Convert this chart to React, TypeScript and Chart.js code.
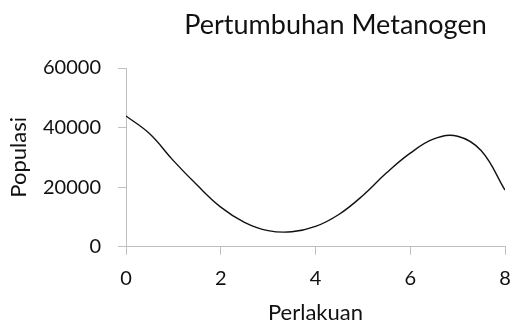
import React, { useEffect, useRef } from "react";
import { Chart, registerables } from "chart.js";

Chart.register(...registerables);

const perlakuan = [0, 0.5, 1, 1.5, 2, 2.5, 3, 3.5, 4, 4.5, 5, 5.5, 6, 6.5, 7, 7.5, 8];
const populasi = [
  43900, 37900, 28900, 20700, 13300, 8200, 5400, 5000, 6800, 10900, 17200, 24800, 31400, 36200,
  37100, 32200, 19000,
];
const xTicks = [0, 2, 4, 6, 8];
const yTicks = [0, 20000, 40000, 60000];
const chartTitle = "Pertumbuhan Metanogen";
const xTitle = "Perlakuan";
const yTitle = "Populasi";

const FONT = "Lato, 'Open Sans', sans-serif";
const AXIS_GRAY = "#bfbfbf";
const TEXT = "#111";

const titlePlugin = {
  id: "offsetTitle",
  afterDraw(chart: any) {
    const { ctx, chartArea } = chart;
    ctx.save();
    ctx.font = `27px ${FONT}`;
    ctx.fillStyle = TEXT;
    ctx.textAlign = "center";
    ctx.textBaseline = "alphabetic";
    ctx.fillText(chartTitle, (chartArea.left + chartArea.right) / 2 + 20, 34);
    ctx.restore();
  },
};

export default function App() {
  const ref = useRef<HTMLCanvasElement | null>(null);
  useEffect(() => {
    if (!ref.current) return;
    const chart = new Chart(ref.current, {
      type: "scatter",
      data: {
        datasets: [
          {
            data: perlakuan.map((x, i) => ({ x, y: populasi[i] })),
            showLine: true,
            borderColor: "#111",
            borderWidth: 1.4,
            pointRadius: 0,
            tension: 0.4,
            fill: false,
          },
        ],
      },
      options: {
        animation: false,
        responsive: true,
        maintainAspectRatio: false,
        layout: { padding: { top: 68, right: 0, bottom: 0, left: 0 } },
        plugins: {
          legend: { display: false },
          tooltip: { enabled: false },
          title: { display: false },
        },
        scales: {
          x: {
            type: "linear",
            min: 0,
            max: 8,
            afterBuildTicks: (s: any) => {
              s.ticks = xTicks.map((v) => ({ value: v }));
            },
            afterFit: (s: any) => {
              s.height = 75.3;
              s.paddingRight = 8;
              s.paddingLeft = 0;
            },
            grid: {
              drawOnChartArea: false,
              drawTicks: true,
              tickLength: 8,
              color: AXIS_GRAY,
            },
            border: { color: AXIS_GRAY, width: 1 },
            ticks: {
              color: TEXT,
              font: { family: FONT, size: 20 },
              padding: 12,
              maxRotation: 0,
            },
            title: {
              display: true,
              text: xTitle,
              color: TEXT,
              font: { family: FONT, size: 22 },
              padding: { top: 0, bottom: -4 },
            },
          },
          y: {
            type: "linear",
            min: 0,
            max: 60000,
            afterBuildTicks: (s: any) => {
              s.ticks = yTicks.map((v) => ({ value: v }));
            },
            afterFit: (s: any) => {
              s.width = 126;
            },
            grid: {
              drawOnChartArea: false,
              drawTicks: true,
              tickLength: 8,
              color: AXIS_GRAY,
            },
            border: { color: AXIS_GRAY, width: 1 },
            ticks: {
              color: TEXT,
              font: { family: FONT, size: 20 },
              padding: 17,
              callback: (v: any) => String(v),
            },
            title: {
              display: true,
              text: yTitle,
              color: TEXT,
              font: { family: FONT, size: 22 },
              padding: { top: 6, bottom: 0 },
            },
          },
        },
      },
      plugins: [titlePlugin],
    });
    return () => chart.destroy();
  }, []);

  return (
    <div style={{ position: "absolute", left: 0, top: 0, width: 513, height: 322, background: "#fff" }}>
      <canvas ref={ref} />
    </div>
  );
}
